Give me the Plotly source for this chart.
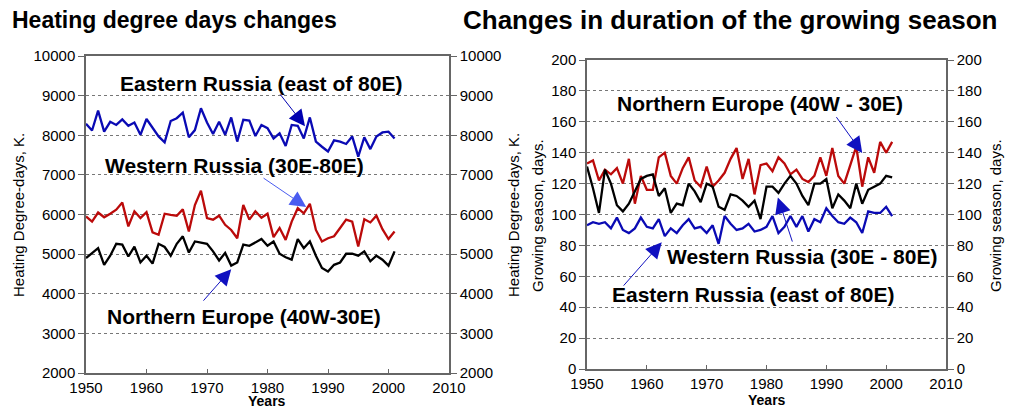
import plotly.graph_objects as go

years = list(range(1950, 2002))

# Heating degree days (K)
hdd_east = [8290, 8120, 8620, 8090, 8340, 8260, 8400, 8240, 8320, 8010,
            8410, 8180, 7970, 7820, 8360, 8430, 8570, 7950, 8130, 8680,
            8320, 8030, 8340, 8010, 8450, 7840, 8390, 8370, 7980, 8260,
            8180, 7920, 8050, 7730, 8260, 8240, 7920, 8450, 7840, 7710,
            7590, 7870, 7840, 7780, 7970, 7460, 7950, 7650, 7970, 8070,
            8090, 7920]
hdd_west = [5950, 5820, 6050, 5930, 6020, 6120, 6300, 5700, 6080, 5910,
            6060, 5550, 5490, 6020, 5990, 5970, 6130, 5570, 6240, 6600,
            5910, 5870, 5970, 5740, 5610, 5400, 6240, 5870, 6080, 5920,
            6020, 5430, 5660, 5360, 5820, 6160, 6030, 6270, 5610, 5320,
            5400, 5450, 5660, 5870, 5820, 5190, 5880, 5800, 5970, 5630,
            5380, 5570]
hdd_north = [4900, 5030, 5150, 4730, 4960, 5260, 5240, 4940, 5190, 4790,
             4960, 4760, 5260, 5180, 4960, 5260, 5450, 5040, 5320, 5290,
             5260, 5070, 4840, 5030, 4710, 4790, 5240, 5210, 5290, 5380,
             5210, 5320, 5010, 4920, 4860, 5380, 5150, 5320, 4960, 4650,
             4560, 4730, 4790, 5010, 5010, 4960, 5070, 4820, 4960, 4860,
             4710, 5070]

# Growing season duration (days)
gs_north = [133, 135, 122, 129, 126, 130, 120, 136, 107, 125,
            116, 116, 137, 140, 125, 120, 130, 137, 122, 118,
            131, 118, 122, 127, 136, 143, 123, 136, 113, 132,
            133, 128, 137, 133, 126, 129, 123, 121, 125, 137,
            125, 143, 125, 120, 132, 144, 118, 137, 127, 147,
            140, 147]
gs_west = [131, 117, 101, 129, 120, 106, 102, 107, 115, 123,
           125, 126, 112, 117, 101, 107, 106, 120, 115, 108,
           120, 118, 105, 103, 113, 112, 109, 105, 109, 97,
           118, 118, 114, 120, 125, 120, 112, 106, 120, 120,
           123, 104, 113, 109, 104, 120, 107, 116, 118, 120,
           125, 124]
gs_east = [93, 95, 94, 95, 91, 98, 90, 88, 91, 98,
           92, 91, 97, 86, 91, 88, 93, 97, 91, 92,
           88, 93, 81, 99, 94, 90, 91, 94, 89, 90,
           92, 99, 88, 92, 99, 92, 99, 89, 97, 95,
           104, 99, 95, 94, 98, 95, 88, 102, 101, 101,
           105, 99]

hdd_ticks = [2000, 3000, 4000, 5000, 6000, 7000, 8000, 9000, 10000]
gs_ticks = [0, 20, 40, 60, 80, 100, 120, 140, 160, 180, 200]
year_ticks = [1950, 1960, 1970, 1980, 1990, 2000, 2010]

titles = ["Heating degree days changes", "Changes in duration of the growing season"]

BLUE = "#0a0ab4"
RED = "#bb0a0a"
BLACK = "#000000"
AX = "#666666"
FONT = "Liberation Sans, Arial, sans-serif"

W, H = 1011, 409
def fx(px):
    return px / W
def fy(py):
    return 1 - py / H

fig = go.Figure()

for vals, col in [(hdd_east, BLUE), (hdd_west, RED), (hdd_north, BLACK)]:
    fig.add_trace(go.Scatter(x=years, y=vals, mode="lines", xaxis="x", yaxis="y",
                             line=dict(color=col, width=2.3), showlegend=False))
for vals, col in [(gs_north, RED), (gs_west, BLACK), (gs_east, BLUE)]:
    fig.add_trace(go.Scatter(x=years, y=vals, mode="lines", xaxis="x2", yaxis="y3",
                             line=dict(color=col, width=2.3), showlegend=False))
fig.add_trace(go.Scatter(x=[None], y=[None], xaxis="x", yaxis="y2", showlegend=False))
fig.add_trace(go.Scatter(x=[None], y=[None], xaxis="x2", yaxis="y4", showlegend=False))

tickfont = dict(family=FONT, size=15, color="black")
xcommon = dict(range=[1950, 2010], tickvals=year_ticks, showline=True, linecolor=AX,
               linewidth=1.5, mirror=True, ticks="inside", ticklen=4, tickcolor=AX,
               showgrid=False, zeroline=False, tickfont=tickfont, tickformat="d")
ycommon = dict(showline=True, linecolor=AX, linewidth=1.5, ticks="outside", ticklen=6,
               tickcolor=AX, zeroline=False, tickfont=tickfont, tickformat="d")

fig.update_layout(
    template="none",
    width=W, height=H, margin=dict(l=0, r=0, t=0, b=0, autoexpand=False),
    paper_bgcolor="white", plot_bgcolor="white",
    xaxis=dict(domain=[fx(86), fx(449)], anchor="y", **xcommon),
    yaxis=dict(domain=[fy(373), fy(56)], anchor="x", range=[2000, 10000], tickvals=hdd_ticks,
               showgrid=True, gridcolor="#777777", griddash="dot", gridwidth=1, **ycommon),
    yaxis2=dict(domain=[fy(373), fy(56)], anchor="x", overlaying="y", side="right",
                range=[2000, 10000], tickvals=hdd_ticks, showgrid=False, **ycommon),
    xaxis2=dict(domain=[fx(587), fx(946)], anchor="y3", **xcommon),
    yaxis3=dict(domain=[fy(369), fy(60)], anchor="x2", range=[0, 200], tickvals=gs_ticks,
                showgrid=True, gridcolor="#777777", griddash="dot", gridwidth=1, **ycommon),
    yaxis4=dict(domain=[fy(369), fy(60)], anchor="x2", overlaying="y3", side="right",
                range=[0, 200], tickvals=gs_ticks, showgrid=False, **ycommon),
)

ann = []
ann.append(dict(text="<b>" + titles[0] + "</b>", x=fx(10), y=fy(20), xref="paper", yref="paper",
                xanchor="left", yanchor="middle", showarrow=False,
                font=dict(family=FONT, size=23, color="black")))
ann.append(dict(text="<b>" + titles[1] + "</b>", x=fx(461), y=fy(20), xref="paper", yref="paper",
                xanchor="left", yanchor="middle", showarrow=False,
                font=dict(family=FONT, size=26, color="black")))

lab = dict(family=FONT, size=21, color="black")
ann += [
    dict(text="<b>Eastern Russia (east of 80E)</b>", x=1978.9, y=9318, xref="x", yref="y", showarrow=False, font=lab),
    dict(text="<b>Western Russia (30E-80E)</b>", x=1974.5, y=7247, xref="x", yref="y", showarrow=False, font=lab),
    dict(text="<b>Northern Europe (40W-30E)</b>", x=1976.1, y=3434, xref="x", yref="y", showarrow=False, font=lab),
    dict(text="<b>Northern Europe (40W - 30E)</b>", x=1978.9, y=172, xref="x2", yref="y3", showarrow=False, font=lab),
    dict(text="<b>Western Russia (30E - 80E)</b>", x=1986.0, y=73, xref="x2", yref="y3", showarrow=False, font=lab),
    dict(text="<b>Eastern Russia (east of 80E)</b>", x=1977.8, y=48, xref="x2", yref="y3", showarrow=False, font=lab),
]
def arrow(x, y, ax, ay, xr, yr, col):
    return dict(text="", x=x, y=y, ax=ax, ay=ay, xref=xr, yref=yr, axref=xr, ayref=yr,
                showarrow=True, arrowhead=2, arrowsize=3.2, arrowwidth=1.0, arrowcolor=col)
ann += [
    arrow(1986.2, 8230, 1981.9, 9070, "x", "y", "#0000b0"),
    arrow(1986.4, 6187, 1979.1, 6944, "x", "y", "#4a5cf0"),
    arrow(1974.0, 4621, 1969.2, 3788, "x", "y", "#1010c0"),
    arrow(1996.0, 139.8, 1991.5, 164, "x2", "y3", "#1010c0"),
    arrow(1981.9, 111, 1984.4, 81.5, "x2", "y3", "#1010c0"),
    arrow(1962.5, 82, 1955.9, 53, "x2", "y3", "#1010c0"),
]
def ptext(text, px, py, angle=0, size=15):
    return dict(text=text, x=fx(px), y=fy(py), xref="paper", yref="paper", xanchor="center",
                yanchor="middle", textangle=angle, showarrow=False,
                font=dict(family=FONT, size=size, color="black"))
ann += [
    ptext("Heating Degree-days, K.", 18, 215, -90),
    ptext("<b>Years</b>", 267, 401, 0, 14),
    ptext("Heating Degree-days, K.", 513, 215, -90),
    ptext("Growing season, days.", 537, 216, -90),
    ptext("Growing season, days.", 995, 216, -90),
    ptext("<b>Years</b>", 767, 400, 0, 14),
]
fig.update_layout(annotations=ann)

fig.write_html("out.html", config={"displayModeBar": False},
               post_script="document.body.style.margin='0';document.body.style.padding='0';")
